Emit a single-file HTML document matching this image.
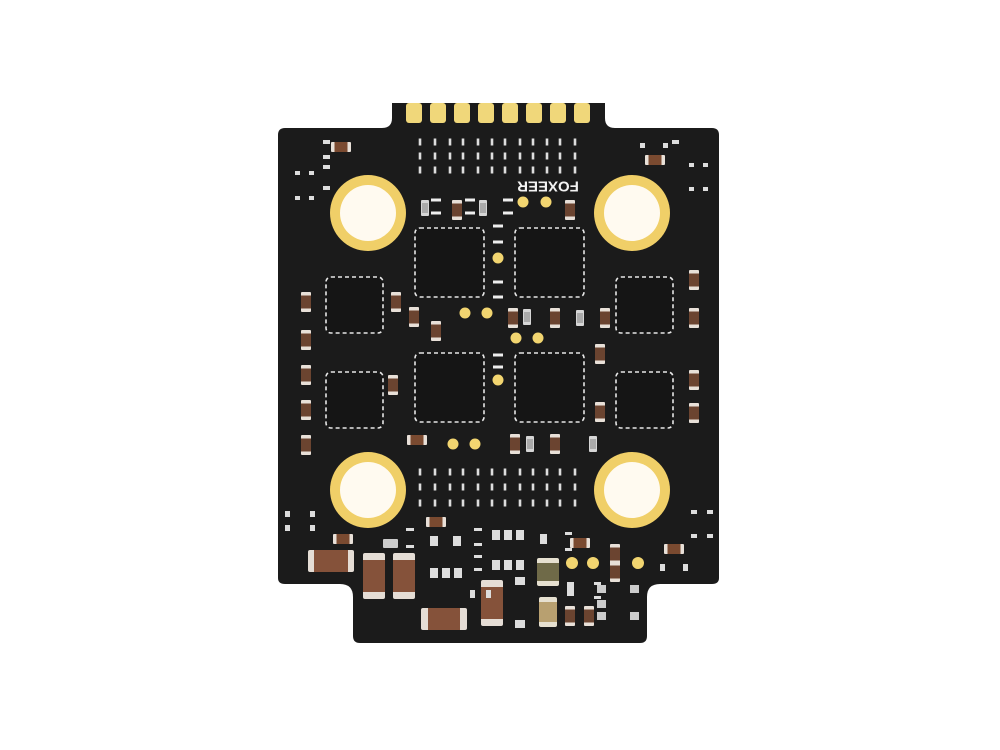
<!DOCTYPE html>
<html><head><meta charset="utf-8"><style>
html,body{margin:0;padding:0;background:#fff;}
svg{display:block;}
</style></head><body>
<svg width="1000" height="750" viewBox="0 0 1000 750" xmlns="http://www.w3.org/2000/svg">
<defs>
<g id="cap"><rect x="-5" y="-10" width="10" height="20" rx="1" fill="#e8e0d8"/><rect x="-5" y="-6.5" width="10" height="13" fill="#6b4430"/></g>
<g id="capH"><rect x="-10" y="-5" width="20" height="10" rx="1" fill="#e8e0d8"/><rect x="-6.5" y="-5" width="13" height="10" fill="#7a4a30"/></g>
<g id="resG"><rect x="-4" y="-8" width="8" height="16" rx="1" fill="#d6d6d6"/><rect x="-3" y="-5" width="6" height="10" fill="#aaa"/></g>
<g id="pad2"><rect x="-5" y="-1.5" width="10" height="3" fill="#eee"/></g>
<g id="dash"><rect x="-1.3" y="-3.5" width="2.6" height="7" fill="#ddd"/></g>
</defs>
<path d="M392,103 L605,103 L605,118 Q605,128 615,128 L712,128 Q719,128 719,135 L719,578 Q719,584 712,584 L660,584 Q647,584 647,597 L647,636 Q647,643 640,643 L360,643 Q353,643 353,636 L353,597 Q353,584 340,584 L285,584 Q278,584 278,578 L278,135 Q278,128 285,128 L382,128 Q392,128 392,118 Z" fill="#1b1b1b"/>
<g fill="#f0d77a">
<rect x="406" y="103" width="16" height="20" rx="3"/><rect x="430" y="103" width="16" height="20" rx="3"/>
<rect x="454" y="103" width="16" height="20" rx="3"/><rect x="478" y="103" width="16" height="20" rx="3"/>
<rect x="502" y="103" width="16" height="20" rx="3"/><rect x="526" y="103" width="16" height="20" rx="3"/>
<rect x="550" y="103" width="16" height="20" rx="3"/><rect x="574" y="103" width="16" height="20" rx="3"/>
</g>
<g>
<circle cx="368" cy="213" r="38" fill="#f0cf68"/><circle cx="368" cy="213" r="28" fill="#fffaf0"/>
<circle cx="632" cy="213" r="38" fill="#f0cf68"/><circle cx="632" cy="213" r="28" fill="#fffaf0"/>
<circle cx="368" cy="490" r="38" fill="#f0cf68"/><circle cx="368" cy="490" r="28" fill="#fffaf0"/>
<circle cx="632" cy="490" r="38" fill="#f0cf68"/><circle cx="632" cy="490" r="28" fill="#fffaf0"/>
</g>
<g fill="#151515" stroke="#e6e6e6" stroke-width="1.6" stroke-dasharray="4,3">
<rect x="415" y="228" width="69" height="69" rx="5"/><rect x="515" y="228" width="69" height="69" rx="5"/>
<rect x="415" y="353" width="69" height="69" rx="5"/><rect x="515" y="353" width="69" height="69" rx="5"/>
<rect x="326" y="277" width="57" height="56" rx="5"/><rect x="616" y="277" width="57" height="56" rx="5"/>
<rect x="326" y="372" width="57" height="56" rx="5"/><rect x="616" y="372" width="57" height="56" rx="5"/>
</g>
<g>
<use href="#dash" x="420" y="142"/><use href="#dash" x="435" y="142"/><use href="#dash" x="450" y="142"/><use href="#dash" x="463" y="142"/><use href="#dash" x="478" y="142"/><use href="#dash" x="492" y="142"/><use href="#dash" x="505" y="142"/><use href="#dash" x="520" y="142"/><use href="#dash" x="533" y="142"/><use href="#dash" x="547" y="142"/><use href="#dash" x="560" y="142"/><use href="#dash" x="575" y="142"/>
<use href="#dash" x="420" y="156"/><use href="#dash" x="435" y="156"/><use href="#dash" x="450" y="156"/><use href="#dash" x="463" y="156"/><use href="#dash" x="478" y="156"/><use href="#dash" x="492" y="156"/><use href="#dash" x="505" y="156"/><use href="#dash" x="520" y="156"/><use href="#dash" x="533" y="156"/><use href="#dash" x="547" y="156"/><use href="#dash" x="560" y="156"/><use href="#dash" x="575" y="156"/>
<use href="#dash" x="420" y="170"/><use href="#dash" x="435" y="170"/><use href="#dash" x="450" y="170"/><use href="#dash" x="463" y="170"/><use href="#dash" x="478" y="170"/><use href="#dash" x="492" y="170"/><use href="#dash" x="505" y="170"/><use href="#dash" x="520" y="170"/><use href="#dash" x="533" y="170"/><use href="#dash" x="547" y="170"/><use href="#dash" x="560" y="170"/><use href="#dash" x="575" y="170"/>
<use href="#dash" x="420" y="472"/><use href="#dash" x="435" y="472"/><use href="#dash" x="450" y="472"/><use href="#dash" x="463" y="472"/><use href="#dash" x="478" y="472"/><use href="#dash" x="492" y="472"/><use href="#dash" x="505" y="472"/><use href="#dash" x="520" y="472"/><use href="#dash" x="533" y="472"/><use href="#dash" x="547" y="472"/><use href="#dash" x="560" y="472"/><use href="#dash" x="575" y="472"/>
<use href="#dash" x="420" y="487"/><use href="#dash" x="435" y="487"/><use href="#dash" x="450" y="487"/><use href="#dash" x="463" y="487"/><use href="#dash" x="478" y="487"/><use href="#dash" x="492" y="487"/><use href="#dash" x="505" y="487"/><use href="#dash" x="520" y="487"/><use href="#dash" x="533" y="487"/><use href="#dash" x="547" y="487"/><use href="#dash" x="560" y="487"/><use href="#dash" x="575" y="487"/>
<use href="#dash" x="420" y="503"/><use href="#dash" x="435" y="503"/><use href="#dash" x="450" y="503"/><use href="#dash" x="463" y="503"/><use href="#dash" x="478" y="503"/><use href="#dash" x="492" y="503"/><use href="#dash" x="505" y="503"/><use href="#dash" x="520" y="503"/><use href="#dash" x="533" y="503"/><use href="#dash" x="547" y="503"/><use href="#dash" x="560" y="503"/><use href="#dash" x="575" y="503"/>
</g>
<text x="548" y="186" transform="rotate(180 548 186)" text-anchor="middle" dominant-baseline="central" font-family="Liberation Sans, sans-serif" font-weight="bold" font-size="15" fill="#f2f2f2">FOXEER</text>
<g fill="#f2d570">
<circle cx="523" cy="202" r="5.5"/><circle cx="546" cy="202" r="5.5"/>
<circle cx="498" cy="258" r="5.5"/><circle cx="465" cy="313" r="5.5"/><circle cx="487" cy="313" r="5.5"/>
<circle cx="516" cy="338" r="5.5"/><circle cx="538" cy="338" r="5.5"/><circle cx="498" cy="380" r="5.5"/>
<circle cx="453" cy="444" r="5.5"/><circle cx="475" cy="444" r="5.5"/>
<circle cx="572" cy="563" r="6"/><circle cx="593" cy="563" r="6"/><circle cx="638" cy="563" r="6"/>
</g>
<g>
<use href="#cap" x="306" y="302"/><use href="#cap" x="306" y="340"/><use href="#cap" x="306" y="375"/><use href="#cap" x="306" y="410"/><use href="#cap" x="306" y="445"/>
<use href="#cap" x="694" y="280"/><use href="#cap" x="694" y="318"/><use href="#cap" x="694" y="380"/><use href="#cap" x="694" y="413"/>
<use href="#cap" x="396" y="302"/><use href="#cap" x="414" y="317"/><use href="#cap" x="436" y="331"/><use href="#cap" x="393" y="385"/>
<use href="#cap" x="513" y="318"/><use href="#cap" x="555" y="318"/><use href="#cap" x="605" y="318"/><use href="#cap" x="600" y="354"/><use href="#cap" x="600" y="412"/>
<use href="#cap" x="515" y="444"/><use href="#cap" x="555" y="444"/>
<use href="#cap" x="457" y="210"/><use href="#cap" x="570" y="210"/>
<use href="#capH" x="341" y="147"/><use href="#capH" x="655" y="160"/>
<use href="#capH" x="417" y="440"/><use href="#capH" x="436" y="522"/>
</g>
<g>
<use href="#resG" x="425" y="208"/><use href="#resG" x="483" y="208"/><use href="#resG" x="527" y="317"/><use href="#resG" x="580" y="318"/><use href="#resG" x="530" y="444"/><use href="#resG" x="593" y="444"/>
<use href="#pad2" x="436" y="200"/><use href="#pad2" x="436" y="213"/><use href="#pad2" x="470" y="200"/><use href="#pad2" x="470" y="213"/><use href="#pad2" x="508" y="200"/><use href="#pad2" x="508" y="213"/>
<use href="#pad2" x="498" y="226"/><use href="#pad2" x="498" y="242"/><use href="#pad2" x="498" y="282"/><use href="#pad2" x="498" y="297"/><use href="#pad2" x="498" y="355"/><use href="#pad2" x="498" y="367"/>
</g>
<g fill="#ddd">
<rect x="323" y="140" width="7" height="4"/><rect x="323" y="155" width="7" height="4"/><rect x="323" y="165" width="7" height="4"/><rect x="323" y="186" width="7" height="4"/>
<rect x="295" y="171" width="5" height="4"/><rect x="309" y="171" width="5" height="4"/><rect x="295" y="196" width="5" height="4"/><rect x="309" y="196" width="5" height="4"/>
<rect x="640" y="143" width="5" height="5"/><rect x="663" y="143" width="5" height="5"/><rect x="672" y="140" width="7" height="4"/>
<rect x="689" y="163" width="5" height="4"/><rect x="703" y="163" width="5" height="4"/><rect x="689" y="187" width="5" height="4"/><rect x="703" y="187" width="5" height="4"/>
<rect x="285" y="511" width="5" height="6"/><rect x="310" y="511" width="5" height="6"/><rect x="285" y="525" width="5" height="6"/><rect x="310" y="525" width="5" height="6"/>
<rect x="691" y="510" width="6" height="4"/><rect x="707" y="510" width="6" height="4"/><rect x="691" y="534" width="6" height="4"/><rect x="707" y="534" width="6" height="4"/>
</g>
<g>
<rect x="308" y="550" width="46" height="22" rx="2" fill="#e5ddd5"/><rect x="314" y="550" width="34" height="22" fill="#85523a"/>
<rect x="363" y="553" width="22" height="46" rx="2" fill="#e5ddd5"/><rect x="363" y="560" width="22" height="32" fill="#85523a"/>
<rect x="393" y="553" width="22" height="46" rx="2" fill="#e5ddd5"/><rect x="393" y="560" width="22" height="32" fill="#85523a"/>
<rect x="421" y="608" width="46" height="22" rx="2" fill="#e5ddd5"/><rect x="428" y="608" width="32" height="22" fill="#85523a"/>
<rect x="481" y="580" width="22" height="46" rx="2" fill="#e5ddd5"/><rect x="481" y="587" width="22" height="32" fill="#85523a"/>
<rect x="537" y="558" width="22" height="28" rx="2" fill="#e6e0d0"/><rect x="537" y="563" width="22" height="18" fill="#6f6a48"/>
<rect x="539" y="597" width="18" height="30" rx="2" fill="#e6e0d0"/><rect x="539" y="602" width="18" height="20" fill="#b8a070"/>
<use href="#capH" x="343" y="539"/><use href="#capH" x="580" y="543"/><use href="#capH" x="674" y="549"/>
<use href="#cap" x="615" y="554"/><use href="#cap" x="615" y="572"/>
<use href="#cap" x="570" y="616"/><use href="#cap" x="589" y="616"/>
<rect x="383" y="539" width="15" height="9" rx="1" fill="#ccc"/>
<rect x="430" y="536" width="8" height="10" fill="#ddd"/><rect x="453" y="536" width="8" height="10" fill="#ddd"/>
<rect x="430" y="568" width="8" height="10" fill="#ddd"/><rect x="442" y="568" width="8" height="10" fill="#ddd"/><rect x="454" y="568" width="8" height="10" fill="#ddd"/>
<rect x="492" y="530" width="8" height="10" fill="#ddd"/><rect x="504" y="530" width="8" height="10" fill="#ddd"/><rect x="516" y="530" width="8" height="10" fill="#ddd"/>
<rect x="492" y="560" width="8" height="10" fill="#ddd"/><rect x="504" y="560" width="8" height="10" fill="#ddd"/><rect x="516" y="560" width="8" height="10" fill="#ddd"/>
<rect x="515" y="577" width="10" height="8" fill="#ddd"/><rect x="515" y="620" width="10" height="8" fill="#ddd"/>
<rect x="470" y="590" width="5" height="8" fill="#ddd"/><rect x="486" y="590" width="5" height="8" fill="#ddd"/>
<rect x="540" y="534" width="7" height="10" fill="#ddd"/><rect x="565" y="532" width="7" height="3" fill="#ddd"/><rect x="565" y="548" width="7" height="3" fill="#ddd"/>
<rect x="567" y="582" width="7" height="14" fill="#ddd"/>
<rect x="594" y="582" width="7" height="3" fill="#ddd"/><rect x="594" y="596" width="7" height="3" fill="#ddd"/>
<rect x="597" y="585" width="9" height="8" fill="#ccc"/><rect x="597" y="600" width="9" height="8" fill="#ccc"/><rect x="597" y="612" width="9" height="8" fill="#ccc"/>
<rect x="630" y="585" width="9" height="8" fill="#ccc"/><rect x="630" y="612" width="9" height="8" fill="#ccc"/>
<rect x="660" y="564" width="5" height="7" fill="#ddd"/><rect x="683" y="564" width="5" height="7" fill="#ddd"/>
<rect x="406" y="528" width="8" height="3" fill="#ddd"/><rect x="406" y="545" width="8" height="3" fill="#ddd"/>
<rect x="474" y="528" width="8" height="3" fill="#ddd"/><rect x="474" y="543" width="8" height="3" fill="#ddd"/><rect x="474" y="555" width="8" height="3" fill="#ddd"/><rect x="474" y="568" width="8" height="3" fill="#ddd"/>
</g>
</svg>
</body></html>
